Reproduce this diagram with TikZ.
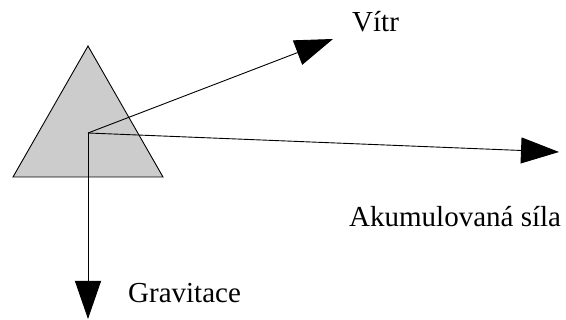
\documentclass[tikz,border=0pt]{standalone}
\usepackage{fontspec}
\setmainfont{Liberation Serif}
\usetikzlibrary{arrows.meta}
\begin{document}
\begin{tikzpicture}[x=1pt,y=-1pt,
  force/.style={draw=black,line width=0.9pt,-{Triangle[length=38pt,width=26pt]}},
  lbl/.style={inner sep=0pt,anchor=base west,font=\fontsize{29}{34}\selectfont}]
\useasboundingbox (0,0) rectangle (566,320);
\coordinate (apex) at (88,46);
\coordinate (bl) at (13,177);
\coordinate (br) at (163,177);
\coordinate (c) at (88,133);
\coordinate (tw) at (333,39);
\coordinate (ta) at (559,152);
\coordinate (tg) at (88,319);
\filldraw[fill=black!20,draw=black,line width=0.9pt,line join=miter] (apex) -- (br) -- (bl) -- cycle;
\draw[force] (c) -- (tw);
\draw[force] (c) -- (ta);
\draw[force] (c) -- (tg);
\node[lbl] (vitr) at (352,32) {Vítr};
\node[lbl] (akum) at (349,227) {Akumulovaná síla};
\node[lbl] (grav) at (128,303) {Gravitace};
\end{tikzpicture}
\end{document}
